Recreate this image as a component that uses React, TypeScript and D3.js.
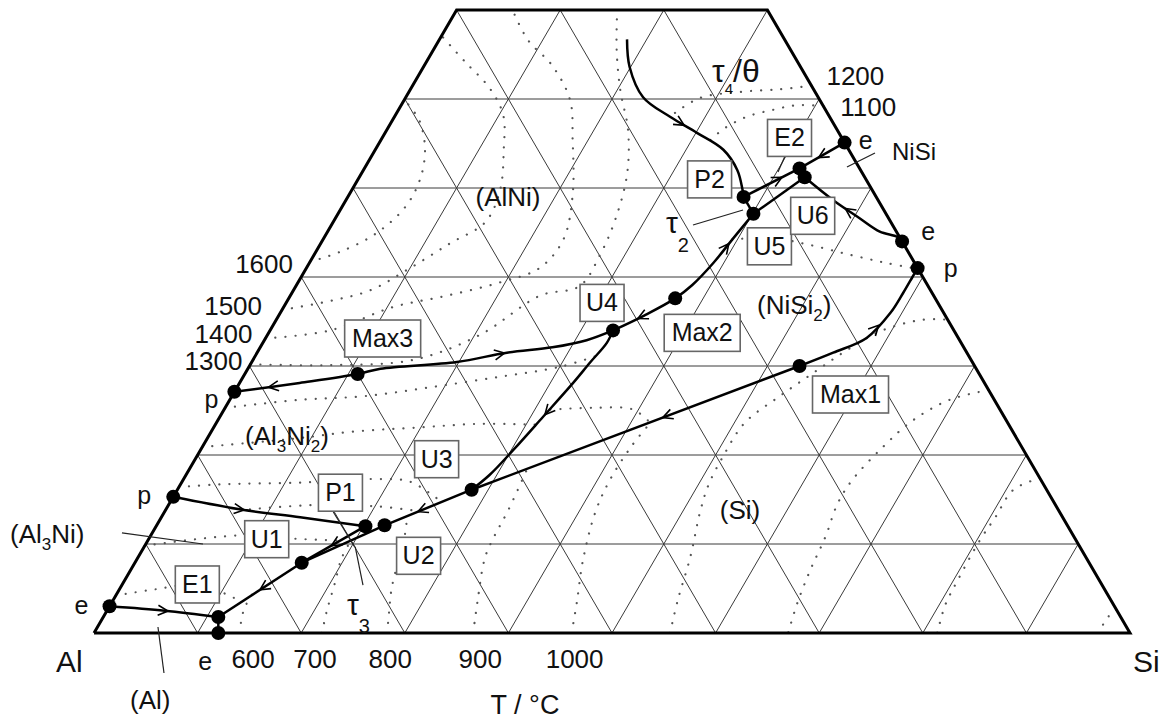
import React from "react";
import * as d3 from "d3";

type P = [number, number]; // composition [Ni at.%, Si at.%]

// ---------------- DATA ----------------
const gridLevels = [10, 20, 30, 40, 50, 60, 70, 80, 90];
const niTop = 70; // truncation of the triangle (at.% Ni)

const invariantPoints: { id: string; ni: number; si: number }[] = [
  { id: "eAlNi", ni: 3.0, si: 0 },
  { id: "pAl3Ni", ni: 15.3, si: 0 },
  { id: "pAl3Ni2", ni: 27.1, si: 0 },
  { id: "eAlSi", ni: 0, si: 12.0 },
  { id: "E1", ni: 1.8, si: 11.1 },
  { id: "U1", ni: 7.9, si: 16.1 },
  { id: "P1", ni: 12.0, si: 20.2 },
  { id: "U2", ni: 12.1, si: 22.0 },
  { id: "U3", ni: 16.1, si: 28.4 },
  { id: "Max1", ni: 30.0, si: 53.1 },
  { id: "pNiSi2", ni: 41.0, si: 59.0 },
  { id: "eNiSi2", ni: 44.0, si: 56.0 },
  { id: "eNiSi", ni: 55.1, si: 44.9 },
  { id: "U4", ni: 34.0, si: 33.1 },
  { id: "Max2", ni: 37.6, si: 37.3 },
  { id: "Max3", ni: 29.1, si: 10.9 },
  { id: "U5", ni: 47.1, si: 40.1 },
  { id: "P2", ni: 49.0, si: 38.2 },
  { id: "E2", ni: 52.2, si: 42.0 },
  { id: "U6", ni: 51.2, si: 43.0 },
];

const boxedLabels = ["E1", "U1", "P1", "U2", "U3", "U4", "U5", "U6", "P2", "E2", "Max1", "Max2", "Max3"];
const binaryLabels: { id: string; text: string }[] = [
  { id: "eAlNi", text: "e" },
  { id: "pAl3Ni", text: "p" },
  { id: "pAl3Ni2", text: "p" },
  { id: "eAlSi", text: "e" },
  { id: "eNiSi", text: "e" },
  { id: "eNiSi2", text: "e" },
  { id: "pNiSi2", text: "p" },
];

// monovariant lines
const lineEAlNiE1: P[] = [[3.0, 0], [2.5, 5.6], [1.8, 11.1]];
const linePAl3Ni: P[] = [[15.3, 0], [13.9, 7.1], [13.0, 13.4], [12.0, 20.2]];
const lineMax3: P[] = [[27.1, 0], [28.1, 5.8], [29.1, 10.9], [29.7, 12.8], [30.45, 19.8], [31.5, 24.1], [32.1, 28.2], [32.9, 31.1], [34.0, 33.1]];
const lineMax2: P[] = [[34.0, 33.1], [35.7, 35.3], [37.6, 37.3], [39.1, 38.2], [41.6, 39.0], [44.2, 39.5], [47.1, 40.1]];
const lineU4U3: P[] = [[34.0, 33.1], [32.6, 33.2], [30.45, 32.7], [28.1, 32.2], [24.3, 31.2], [20.6, 30.2], [17.75, 29.3], [16.1, 28.4]];
const lineMax1U2: P[] = [[30.0, 53.1], [16.1, 28.4], [12.1, 22.0]];
const lineMax1p: P[] = [[30.0, 53.1], [31.5, 55.6], [33.15, 58.0], [36.0, 58.9], [38.2, 59.0], [40.0, 59.0], [41.0, 59.0]];
const lineP1U1: P[] = [[12.0, 20.2], [7.9, 16.1]];
const lineU2U1: P[] = [[12.1, 22.0], [7.9, 16.1]];
const lineU1E1: P[] = [[7.9, 16.1], [1.8, 11.1]];
const lineE1e: P[] = [[1.8, 11.1], [0, 12.0]];
const lineTau4: P[] = [[66.7, 18.1], [63.6, 19.9], [60.2, 22.9], [58.0, 26.6], [56.2, 30.1], [54.3, 33.6], [52.0, 36.1], [49.8, 37.7], [49.0, 38.2]];
const lineP2E2: P[] = [[49.0, 38.2], [52.2, 42.0]];
const lineU5U6: P[] = [[47.1, 40.1], [51.2, 43.0]];
const lineP2U5: P[] = [[49.0, 38.2], [47.1, 40.1]];
const lineE2U6: P[] = [[52.2, 42.0], [51.2, 43.0]];
const lineNiSiE2: P[] = [[55.1, 44.9], [52.2, 42.0]];
const lineU6e: P[] = [[51.2, 43.0], [48.65, 47.0], [46.6, 50.6], [45.1, 53.3], [44.5, 55.3], [44.0, 56.0]];

// isotherms (dotted)
const iso600: P[] = [[0, 14.1], [1.7, 13.4], [3.1, 13.1], [4.3, 13.1]];
const iso700: P[] = [[0, 22.0], [2.6, 21.2], [5.4, 20.5], [8.4, 19.7], [10.2, 19.6]];
const iso800: P[] = [[0, 28.3], [2.6, 27.2], [4.8, 26.3], [7.1, 25.6], [9.3, 25.1], [13.1, 23.7]];
const iso900: P[] = [[0, 36.6], [3.4, 35.3], [8.5, 33.5], [11.0, 33.2], [13.6, 33.1], [18.4, 32.6]];
const iso1000: P[] = [[0, 46.1], [3.4, 44.9], [8.2, 43.1], [13.6, 41.6], [17.2, 41.2], [21.1, 41.4], [23.6, 41.9]];
const isoSiA: P[] = [[0, 55.6], [3.7, 54.5], [8.5, 53.3], [13.6, 51.7], [16.6, 51.0], [19.8, 50.8], [23.6, 51.0], [26.5, 52.8], [29.2, 54.8], [31.8, 56.8], [34.0, 59.1], [35.2, 62.4], [35.2, 64.8]];
const isoSiB: P[] = [[27.3, 72.7], [26.2, 69.5], [23.9, 67.1], [20.9, 65.7], [17.2, 64.6], [14.6, 64.5], [10.8, 65.2], [7.1, 65.6], [3.4, 66.2], [0, 67.0]];
const isoSiC: P[] = [[17.4, 82.6], [16.1, 80.7], [13.0, 80.5], [10.4, 80.3], [6.0, 80.4], [3.1, 80.6], [0, 81.4]];
const isoSiD: P[] = [[2.6, 97.4], [1.5, 96.9], [0, 97.1]];
const iso1600: P[] = [[41.7, 0], [42.8, 2.3], [44.8, 4.7], [47.8, 6.1], [50.9, 6.0], [54.3, 4.8], [57.6, 2.6], [59.9, 0]];
const iso1500: P[] = [[36.3, 0], [37.3, 4.1], [38.5, 7.4], [41.0, 10.0], [43.8, 12.5], [46.2, 14.7], [49.8, 14.3], [54.3, 12.4], [58.2, 10.4], [61.2, 7.6], [64.2, 3.7], [67.1, 0]];
const iso1400: P[] = [[33.1, 0], [34.0, 5.8], [36.6, 10.5], [37.9, 15.1], [39.4, 19.5], [41.0, 22.5], [44.2, 23.2], [49.2, 21.6], [55.4, 18.5], [59.9, 16.0], [63.8, 12.3], [66.6, 8.6], [70, 5.4]];
const iso1300: P[] = [[30.2, 0], [30.1, 7.7], [30.7, 15.5], [33.5, 20.5], [37.9, 24.1], [39.0, 27.4], [42.5, 27.6], [46.4, 27.1], [51.5, 25.7], [56.5, 23.3], [61.0, 20.3], [65.5, 17.7], [70, 15.5]];
const isoAl3Ni2A: P[] = [[25.3, 0], [26.2, 6.8], [26.6, 12.7], [27.6, 18.6], [28.8, 24.8], [29.9, 30.0], [31.1, 32.9]];
const isoAl3Ni2B: P[] = [[20.9, 0], [21.9, 8.9], [22.6, 13.4], [23.1, 19.9], [23.5, 25.5], [23.4, 30.9]];
const isoAl3Ni2C: P[] = [[16.4, 0], [16.7, 3.8], [16.9, 11.5], [17.3, 18.7], [17.0, 22.0], [14.9, 25.9]];
const isoAl3Ni2D: P[] = [[13.9, 8.1], [14.4, 14.6], [14.2, 20.5], [13.7, 24.4]];
const isoAl3NiA: P[] = [[4.2, 0], [4.9, 3.4], [5.4, 7.5], [3.5, 12.5]];
const isoAl3NiB: P[] = [[9.8, 0], [10.6, 5.0], [11.0, 9.6], [10.6, 14.0], [10.4, 18.4]];
const isoNiSi2A: P[] = [[25.1, 31.5], [25.3, 35.5], [25.1, 39.5], [23.6, 41.9]];
const isoNiSi2B: P[] = [[44.2, 39.5], [44.4, 43.1], [43.6, 47.3], [42.5, 51.7], [41.6, 55.6], [40.9, 59.1]];
const iso1200: P[] = [[61.5, 38.5], [61.1, 35.7], [60.8, 32.0], [60.1, 28.4], [58.2, 26.7]];
const iso1100: P[] = [[59.2, 40.8], [59.3, 38.2], [58.8, 36.2], [58.0, 34.0], [56.7, 32.5], [55.4, 31.8]];

const bottomTempLabels = ["600", "700", "800", "900", "1000"];
const leftTempLabels = ["1600", "1500", "1400", "1300"];
const rightTempLabels = ["1200", "1100"];

// leader lines (compositions)
const leaders: P[][] = [
  [[11.24, -2.92], [10.0, 5.52]],
  [[0.67, 5.84], [-4.49, 9.0]],
  [[13.6, 16.3], [9.7, 20.3]],
  [[9.7, 20.36], [5.39, 23.27]],
  [[45.84, 34.9], [47.53, 38.88]],
  [[52.36, 46.5], [53.93, 48.42]],
  [[53.82, 39.88], [51.8, 40.12]],
];

// ---------------- GEOMETRY ----------------
const xS = d3.scaleLinear().domain([0, 100]).range([94, 1130]);
const yS = d3.scaleLinear().domain([0, 100]).range([633, 633 - 890]);
const proj = (p: P): [number, number] => [xS(p[1] + p[0] / 2), yS(p[0])];

const straight = d3.line<P>().x((d) => proj(d)[0]).y((d) => proj(d)[1]);
const smooth = d3
  .line<P>()
  .x((d) => proj(d)[0])
  .y((d) => proj(d)[1])
  .curve(d3.curveCatmullRom.alpha(0.5));

function along(pts: P[], frac: number) {
  const xy = pts.map(proj);
  const lens: number[] = [];
  let total = 0;
  for (let i = 1; i < xy.length; i++) {
    const l = Math.hypot(xy[i][0] - xy[i - 1][0], xy[i][1] - xy[i - 1][1]);
    lens.push(l);
    total += l;
  }
  let target = frac * total;
  for (let i = 0; i < lens.length; i++) {
    if (target <= lens[i] || i === lens.length - 1) {
      const t = Math.min(1, target / lens[i]);
      const a = xy[i], b = xy[i + 1];
      return {
        x: a[0] + (b[0] - a[0]) * t,
        y: a[1] + (b[1] - a[1]) * t,
        ux: (b[0] - a[0]) / lens[i],
        uy: (b[1] - a[1]) / lens[i],
      };
    }
    target -= lens[i];
  }
  return { x: 0, y: 0, ux: 1, uy: 0 };
}

function chevron(pts: P[], frac: number, dir: number) {
  const a = along(pts, frac);
  const ux = a.ux * dir, uy = a.uy * dir;
  const nx = -uy, ny = ux;
  const tx = a.x + ux * 4, ty = a.y + uy * 4;
  const L = 10, w = 5;
  return `M${tx - ux * L + nx * w},${ty - uy * L + ny * w}L${tx},${ty}L${tx - ux * L - nx * w},${ty - uy * L - ny * w}`;
}

const FONT = "'Liberation Sans', Arial, Helvetica, sans-serif";

export default function App() {
  const pt = (id: string) => {
    const p = invariantPoints.find((d) => d.id === id)!;
    return proj([p.ni, p.si]);
  };

  // grid lines
  const grid: P[][] = [];
  gridLevels.forEach((v) => {
    if (v < niTop) grid.push([[v, 0], [v, 100 - v]]); // constant Ni
    grid.push([[0, v], [Math.min(niTop, 100 - v), v]]); // constant Si
    const t = 100 - v; // Ni + Si = t (constant Al)
    grid.push([[0, t], t <= niTop ? [t, 0] : [niTop, t - niTop]]);
  });
  const border: P[] = [[0, 0], [0, 100], [niTop, 100 - niTop], [niTop, 0], [0, 0]];

  const solidSmooth = [lineEAlNiE1, linePAl3Ni, lineMax3, lineMax2, lineU4U3, lineMax1p, lineTau4, lineU6e];
  const solidStraight = [lineMax1U2, lineP1U1, lineU2U1, lineU1E1, lineE1e, lineP2E2, lineU5U6, lineP2U5, lineE2U6, lineNiSiE2];

  const dotted = [
    iso600, iso700, iso800, iso900, iso1000, isoSiA, isoSiB, isoSiC, isoSiD,
    iso1600, iso1500, iso1400, iso1300, isoAl3Ni2A, isoAl3Ni2B, isoAl3Ni2C, isoAl3Ni2D,
    isoAl3NiA, isoAl3NiB, isoNiSi2A, isoNiSi2B, iso1200, iso1100,
  ];

  const arrows: [P[], number, number][] = [
    [lineEAlNiE1, 0.5, 1],
    [linePAl3Ni, 0.35, 1],
    [lineMax3, 0.1, -1],
    [lineMax3, 0.7, 1],
    [lineMax2, 0.17, -1],
    [lineMax2, 0.77, 1],
    [lineU4U3, 0.49, 1],
    [lineMax1U2, 0.32, 1],
    [lineMax1U2, 0.91, 1],
    [lineMax1p, 0.54, 1],
    [lineP1U1, 0.48, 1],
    [lineU1E1, 0.46, 1],
    [lineTau4, 0.51, 1],
    [lineP2E2, 0.62, 1],
    [lineNiSiE2, 0.5, 1],
    [lineU6e, 0.47, -1],
  ];

  // layout of annotation labels (pixel offsets relative to their anchor)
  const boxOffset: Record<string, [number, number]> = {
    E2: [-10, -31], P2: [-34, -18], U6: [8, 38], U5: [16, 32], U4: [-11, -28],
    Max2: [27, 34], Max3: [25, -36], Max1: [51, 28], U3: [-35, -31], P1: [-25, -34],
    U2: [34, 30], U1: [-35, -24], E1: [-21, -33],
  };
  const binOffset: Record<string, [number, number]> = {
    eAlNi: [-28, 8], pAl3Ni: [-29, 7], pAl3Ni2: [-23, 16], eAlSi: [-13, 37],
    eNiSi: [21, 6], eNiSi2: [26, -1], pNiSi2: [33, 9],
  };
  const bottomIso = [iso600, iso700, iso800, iso900, iso1000];
  const bottomDx = [13, -7, 3, 7, 3];
  const leftIso = [iso1600, iso1500, iso1400, iso1300];
  const leftOff: [number, number][] = [[-17, 11], [-20, 5], [-13, 5], [-8, 6]];
  const rightIso = [iso1200, iso1100];
  const rightOff: [number, number][] = [[15, -1], [17, 10]];

  return (
    <svg width={1167} height={721} style={{ position: "absolute", left: 0, top: 0, background: "#fff" }} fontFamily={FONT}>
      <rect width={1167} height={721} fill="#fff" />
      {/* grid */}
      <g stroke="#3a3a3a" strokeWidth={1} fill="none">
        {grid.map((g, i) => (
          <path key={i} d={straight(g) || ""} />
        ))}
      </g>
      {/* isotherms */}
      <g stroke="#555" strokeWidth={2.2} fill="none" strokeLinecap="round" strokeDasharray="0.1 10">
        {dotted.map((d, i) => (
          <path key={i} d={smooth(d) || ""} />
        ))}
      </g>
      {/* border */}
      <path d={straight(border) || ""} fill="none" stroke="#000" strokeWidth={3} strokeLinejoin="miter" />
      {/* monovariant lines */}
      <g stroke="#000" strokeWidth={2.5} fill="none">
        {solidSmooth.map((d, i) => (
          <path key={"s" + i} d={smooth(d) || ""} />
        ))}
        {solidStraight.map((d, i) => (
          <path key={"l" + i} d={straight(d) || ""} />
        ))}
      </g>
      <g stroke="#000" strokeWidth={1.6} fill="none">
        {arrows.map(([l, f, dir], i) => (
          <path key={i} d={chevron(l, f, dir)} />
        ))}
      </g>
      {/* leader lines */}
      <g stroke="#222" strokeWidth={1.2}>
        {leaders.map((l, i) => (
          <path key={i} d={straight(l) || ""} />
        ))}
      </g>
      {/* invariant points */}
      <g fill="#000">
        {invariantPoints.map((p) => {
          const [x, y] = proj([p.ni, p.si]);
          return <circle key={p.id} cx={x} cy={y} r={7} />;
        })}
      </g>
      {/* boxed labels */}
      {boxedLabels.map((id) => {
        const [x, y] = pt(id);
        const [dx, dy] = boxOffset[id];
        const w = id.length > 2 ? 76 : 44;
        const cx = x + dx, cy = y + dy;
        return (
          <g key={id}>
            <rect x={cx - w / 2} y={cy - 18} width={w} height={37} fill="#fff" stroke="#666" strokeWidth={1.6} />
            <text x={cx} y={cy + 9} textAnchor="middle" fontSize={25} fill="#111">
              {id}
            </text>
          </g>
        );
      })}
      {/* binary point letters */}
      {binaryLabels.map((b) => {
        const [x, y] = pt(b.id);
        const [dx, dy] = binOffset[b.id];
        return (
          <text key={b.id} x={x + dx} y={y + dy} textAnchor="middle" fontSize={25} fill="#111">
            {b.text}
          </text>
        );
      })}
      {/* isotherm temperature labels */}
      {bottomTempLabels.map((t, i) => {
        const [x] = proj(bottomIso[i][0]);
        return (
          <text key={t} x={x + bottomDx[i]} y={668} textAnchor="middle" fontSize={26} fill="#111">
            {t}
          </text>
        );
      })}
      {leftTempLabels.map((t, i) => {
        const [x, y] = proj(leftIso[i][0]);
        return (
          <text key={t} x={x + leftOff[i][0]} y={y + leftOff[i][1]} textAnchor="end" fontSize={26} fill="#111">
            {t}
          </text>
        );
      })}
      {rightTempLabels.map((t, i) => {
        const [x, y] = proj(rightIso[i][0]);
        return (
          <text key={t} x={x + rightOff[i][0]} y={y + rightOff[i][1]} textAnchor="start" fontSize={26} fill="#111">
            {t}
          </text>
        );
      })}
      {/* phase field labels */}
      <g fill="#111">
        <text x={508} y={206} textAnchor="middle" fontSize={26}>(AlNi)</text>
        <text x={740} y={519} textAnchor="middle" fontSize={26}>(Si)</text>
        <text x={245} y={445} fontSize={26}>
          (Al<tspan fontSize={17} dy={7}>3</tspan>
          <tspan dy={-7}>Ni</tspan>
          <tspan fontSize={17} dy={7}>2</tspan>
          <tspan dy={-7}>)</tspan>
        </text>
        <text x={10} y={543} fontSize={26}>
          (Al<tspan fontSize={17} dy={7}>3</tspan>
          <tspan dy={-7}>Ni)</tspan>
        </text>
        <text x={757} y={314} fontSize={26}>
          (NiSi<tspan fontSize={17} dy={7}>2</tspan>
          <tspan dy={-7}>)</tspan>
        </text>
        <text x={130} y={709} fontSize={26}>(Al)</text>
        <text x={892} y={160} fontSize={24}>NiSi</text>
        <text x={712} y={82} fontSize={32}>
          τ<tspan fontSize={15} dy={12}>4</tspan>
          <tspan dy={-12}>/θ</tspan>
        </text>
        <text x={666} y={233} fontSize={30}>
          τ<tspan fontSize={20} dy={19}>2</tspan>
        </text>
        <text x={347} y={615} fontSize={30}>
          τ<tspan fontSize={20} dy={18}>3</tspan>
        </text>
        <text x={56} y={672} fontSize={30}>Al</text>
        <text x={1133} y={672} fontSize={30}>Si</text>
        <text x={525} y={714} textAnchor="middle" fontSize={27}>T / °C</text>
      </g>
    </svg>
  );
}
